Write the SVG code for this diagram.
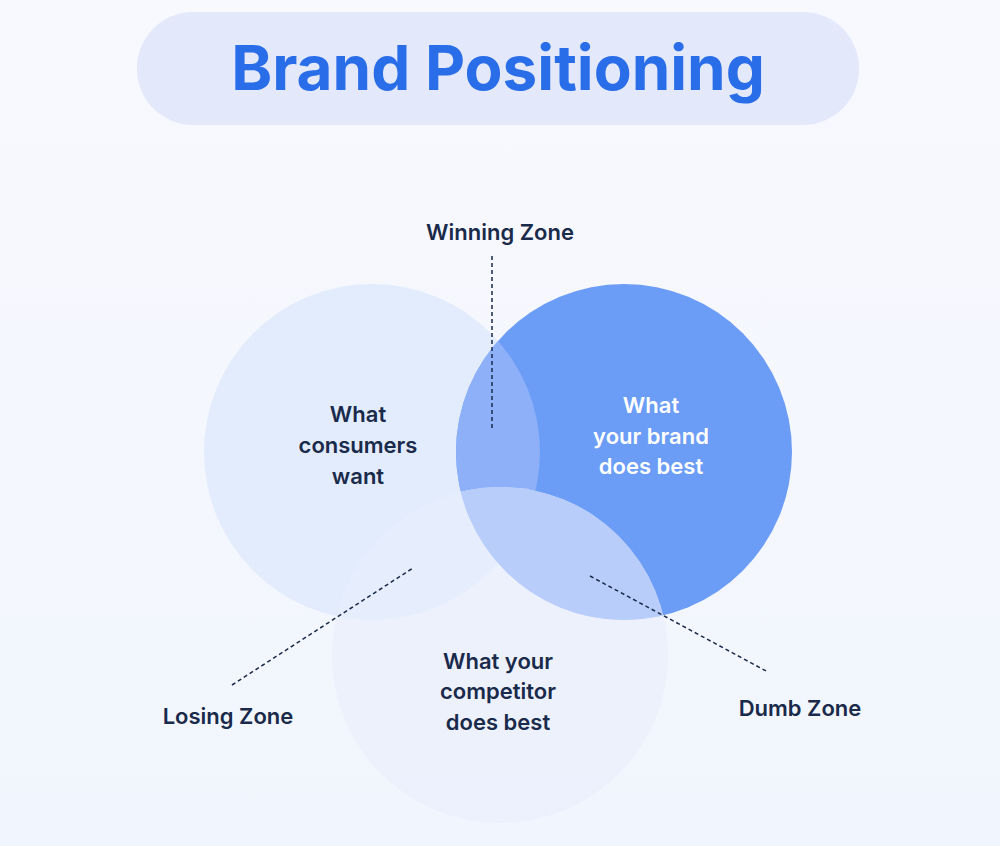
<svg xmlns="http://www.w3.org/2000/svg" width="1000" height="846" viewBox="0 0 1000 846">
<style>
.t{font-family:Inter,"Open Sans",sans-serif;font-size:22px;font-weight:600;fill:#1a2a4a;text-anchor:middle}
.w{fill:#ffffff}
.d{stroke:#1a2a4a;stroke-width:1.5;stroke-dasharray:4 3;fill:none}
</style>
<defs>
<linearGradient id="bg" x1="0" y1="0" x2="0" y2="1"><stop offset="0" stop-color="#f8f9fe"/><stop offset="1" stop-color="#f1f5fd"/></linearGradient>
<clipPath id="cl"><circle cx="372" cy="452" r="168"/></clipPath>
<clipPath id="cb"><circle cx="500" cy="655" r="168"/></clipPath>
</defs>
<rect width="1000" height="846" fill="url(#bg)"/>
<g id="title"><rect x="137" y="12" width="722" height="113" rx="56" fill="#e3e9fb"/>
<text x="498" y="90" style="font-family:Inter,'Open Sans',sans-serif;font-size:62px;font-weight:700;fill:#2a6de8;text-anchor:middle">Brand Positioning</text></g>
<g id="consumers"><circle cx="372" cy="452" r="168" fill="#e2ecfc"/></g>
<g id="brand"><circle cx="624" cy="452" r="168" fill="#6b9cf6"/>
<circle cx="624" cy="452" r="168" fill="#8db0f8" clip-path="url(#cl)"/></g>
<g id="competitor"><circle cx="500" cy="655" r="168" fill="#e8eefc" opacity="0.65"/>
<circle cx="624" cy="452" r="168" fill="#b9cdfa" clip-path="url(#cb)"/></g>
<g id="connectors">
<path class="d" d="M492 256V430"/>
<path class="d" d="M232 685L413 568"/>
<path class="d" d="M590 576L768 672"/>
</g>
<g id="labels">
<text class="t" x="500" y="240">Winning Zone</text>
<text class="t" x="358" y="422">What</text><text class="t" x="358" y="453">consumers</text><text class="t" x="358" y="484">want</text>
<text class="t w" x="651" y="413">What</text><text class="t w" x="651" y="444">your brand</text><text class="t w" x="651" y="474">does best</text>
<text class="t" x="498" y="669">What your</text><text class="t" x="498" y="699">competitor</text><text class="t" x="498" y="730">does best</text>
<text class="t" x="228" y="724">Losing Zone</text>
<text class="t" x="800" y="716">Dumb Zone</text>
</g>
</svg>
